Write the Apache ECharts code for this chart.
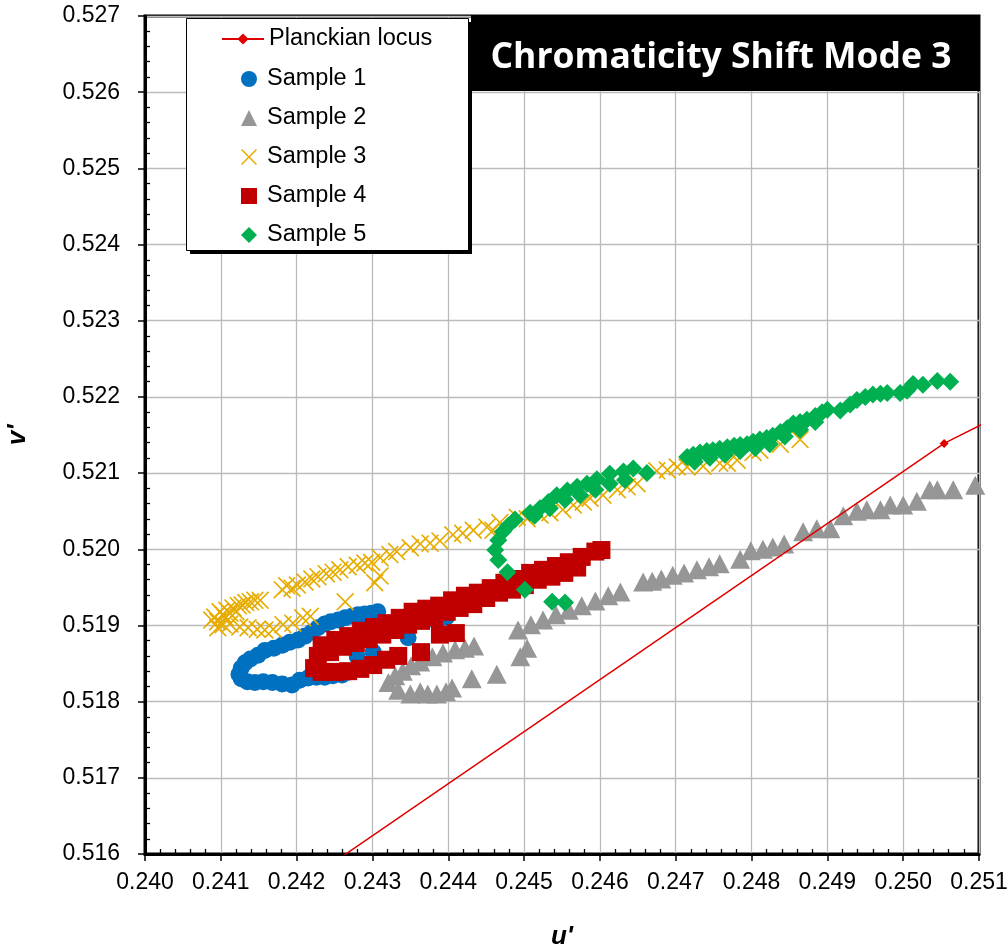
<!DOCTYPE html>
<html>
<head>
<meta charset="utf-8">
<script src="https://cdn.jsdelivr.net/npm/echarts@6/dist/echarts.min.js"></script>
<style>
  html, body { margin: 0; padding: 0; background: #ffffff; }
  #chart { width: 1007px; height: 948px; }
</style>
</head>
<body>
<div id="chart"></div>
<script>
// u'v' chromaticity coordinates of each sample during the test, plus the Planckian locus
const planckianLocus = [[0.23571, 0.51126], [0.25054, 0.52139], [0.26252, 0.52735]];

const sample1 = [
  [0.24307,0.51918],[0.24299,0.51916],[0.24290,0.51915],[0.24281,0.51914],[0.24273,0.51912],
  [0.24264,0.51910],[0.24255,0.51907],[0.24245,0.51905],[0.24237,0.51902],[0.24228,0.51897],
  [0.24220,0.51891],[0.24211,0.51886],[0.24202,0.51881],[0.24191,0.51878],[0.24181,0.51874],
  [0.24170,0.51870],[0.24158,0.51867],[0.24149,0.51861],[0.24139,0.51856],[0.24132,0.51851],
  [0.24127,0.51844],[0.24124,0.51836],[0.24127,0.51830],[0.24135,0.51826],[0.24145,0.51825],
  [0.24156,0.51826],[0.24168,0.51825],[0.24181,0.51823],[0.24194,0.51822],[0.24204,0.51828],
  [0.24215,0.51831],[0.24226,0.51832],[0.24237,0.51832],[0.24248,0.51834],[0.24260,0.51835],
  [0.24270,0.51839],[0.24280,0.51859],[0.24301,0.51865],[0.24347,0.51884],[0.24385,0.51905],
  [0.24398,0.51911]
];

const sample2 = [
  [0.24321,0.51825],[0.24330,0.51834],[0.24340,0.51840],[0.24351,0.51847],[0.24363,0.51852],
  [0.24379,0.51859],[0.24393,0.51864],[0.24409,0.51868],[0.24422,0.51870],[0.24434,0.51873],
  [0.24334,0.51815],[0.24350,0.51810],[0.24363,0.51813],[0.24373,0.51810],[0.24385,0.51810],
  [0.24397,0.51813],[0.24405,0.51818],[0.24431,0.51830],[0.24464,0.51836],
  [0.24495,0.51859],[0.24504,0.51870],
  [0.24492,0.51894],[0.24509,0.51901],[0.24525,0.51907],[0.24542,0.51914],[0.24559,0.51920],
  [0.24576,0.51926],[0.24594,0.51932],[0.24611,0.51939],[0.24627,0.51944],
  [0.24657,0.51957],[0.24669,0.51958],[0.24681,0.51961],[0.24696,0.51966],[0.24711,0.51969],
  [0.24728,0.51973],[0.24744,0.51977],[0.24758,0.51981],
  [0.24785,0.51987],[0.24799,0.51998],[0.24815,0.52000],[0.24828,0.52003],[0.24843,0.52007],
  [0.24868,0.52023],[0.24886,0.52027],[0.24904,0.52027],
  [0.24921,0.52044],[0.24939,0.52050],[0.24952,0.52052],[0.24970,0.52052],[0.24983,0.52058],
  [0.25000,0.52058],[0.25018,0.52063],
  [0.25035,0.52078],[0.25045,0.52078],[0.25066,0.52078],[0.25095,0.52084]
];

const sample3 = [
  [0.24088,0.51907],[0.24092,0.51911],[0.24096,0.51905],[0.24099,0.51918],[0.24103,0.51914],
  [0.24106,0.51910],[0.24108,0.51920],[0.24112,0.51916],[0.24116,0.51923],[0.24120,0.51918],
  [0.24123,0.51926],[0.24128,0.51927],[0.24133,0.51930],[0.24139,0.51931],[0.24145,0.51933],
  [0.24152,0.51933],
  [0.24096,0.51897],[0.24103,0.51901],[0.24112,0.51902],[0.24125,0.51898],[0.24136,0.51897],
  [0.24148,0.51895],[0.24158,0.51894],[0.24169,0.51895],[0.24182,0.51901],[0.24195,0.51903],
  [0.24208,0.51910],[0.24218,0.51912],
  [0.24181,0.51947],[0.24187,0.51952],[0.24194,0.51949],[0.24201,0.51953],[0.24211,0.51957],
  [0.24220,0.51961],[0.24228,0.51964],[0.24239,0.51968],[0.24248,0.51970],[0.24257,0.51973],
  [0.24268,0.51977],[0.24280,0.51979],[0.24290,0.51982],[0.24299,0.51983],[0.24310,0.51989],
  [0.24323,0.51993],
  [0.24264,0.51931],[0.24303,0.51956],[0.24310,0.51965],
  [0.24332,0.51997],[0.24350,0.52002],[0.24363,0.52007],[0.24376,0.52008],[0.24389,0.52011],
  [0.24406,0.52019],[0.24419,0.52021],[0.24433,0.52025],[0.24451,0.52029],[0.24459,0.52025],
  [0.24468,0.52035],[0.24491,0.52042],[0.24504,0.52040],[0.24521,0.52045],[0.24534,0.52048],
  [0.24551,0.52052],[0.24565,0.52058],[0.24578,0.52062],[0.24587,0.52067],[0.24604,0.52071],
  [0.24623,0.52078],[0.24636,0.52082],[0.24649,0.52086],[0.24675,0.52103],[0.24689,0.52104],
  [0.24702,0.52108],[0.24715,0.52108],[0.24736,0.52109],[0.24758,0.52113],[0.24768,0.52113],
  [0.24781,0.52117],[0.24802,0.52127],[0.24811,0.52130],[0.24838,0.52138],[0.24864,0.52144]
];

const sample4 = [
  [0.24233,0.51874],[0.24251,0.51881],[0.24268,0.51886],[0.24285,0.51893],[0.24302,0.51898],
  [0.24319,0.51903],[0.24336,0.51910],[0.24353,0.51918],[0.24371,0.51922],[0.24388,0.51926],
  [0.24405,0.51933],[0.24422,0.51939],[0.24439,0.51943],[0.24456,0.51949],[0.24474,0.51956],
  [0.24491,0.51961],[0.24508,0.51969],[0.24525,0.51973],[0.24542,0.51978],[0.24559,0.51983],
  [0.24576,0.51990],[0.24594,0.51997],[0.24602,0.51999],
  [0.24228,0.51860],[0.24244,0.51865],[0.24261,0.51872],[0.24278,0.51877],[0.24295,0.51882],
  [0.24313,0.51888],[0.24330,0.51894],[0.24347,0.51901],[0.24364,0.51906],[0.24381,0.51911],
  [0.24398,0.51918],[0.24415,0.51923],[0.24433,0.51928],[0.24450,0.51936],[0.24467,0.51943],
  [0.24484,0.51947],[0.24501,0.51953],[0.24518,0.51960],[0.24536,0.51964],[0.24553,0.51969],
  [0.24570,0.51976],
  [0.24223,0.51844],[0.24233,0.51839],[0.24251,0.51839],[0.24268,0.51840],[0.24284,0.51843],
  [0.24301,0.51848],[0.24318,0.51855],[0.24334,0.51860],
  [0.24364,0.51865],[0.24389,0.51888],[0.24410,0.51890]
];

const sample5 = [
  [0.24537,0.51931],[0.24554,0.51930],[0.24501,0.51947],[0.24478,0.51970],[0.24466,0.51986],
  [0.24462,0.51999],[0.24466,0.52012],[0.24472,0.52023],[0.24479,0.52031],[0.24488,0.52039],
  [0.24508,0.52048],[0.24521,0.52054],[0.24532,0.52062],[0.24543,0.52071],[0.24557,0.52077],
  [0.24570,0.52082],[0.24583,0.52086],[0.24596,0.52092],[0.24613,0.52099],[0.24631,0.52102],
  [0.24644,0.52106],[0.24662,0.52100],
  [0.24514,0.52044],[0.24534,0.52054],[0.24554,0.52065],[0.24574,0.52071],[0.24594,0.52078],
  [0.24613,0.52086],[0.24633,0.52091],
  [0.24715,0.52121],[0.24723,0.52124],[0.24732,0.52127],[0.24741,0.52129],[0.24749,0.52130],
  [0.24758,0.52132],[0.24768,0.52134],[0.24777,0.52136],[0.24785,0.52137],[0.24794,0.52138],
  [0.24802,0.52141],[0.24811,0.52144],[0.24820,0.52146],[0.24828,0.52149],[0.24838,0.52154],
  [0.24847,0.52159],[0.24855,0.52165],[0.24864,0.52167],[0.24873,0.52170],[0.24884,0.52175],
  [0.24893,0.52180],[0.24900,0.52183],[0.24917,0.52182],[0.24930,0.52190],[0.24939,0.52196],
  [0.24950,0.52200],[0.24960,0.52203],[0.24970,0.52204],[0.24979,0.52205],[0.24996,0.52205],
  [0.25005,0.52208],[0.25013,0.52217],[0.25026,0.52216],[0.25045,0.52221],[0.25062,0.52220],
  [0.24725,0.52115],[0.24745,0.52120],[0.24765,0.52124],[0.24785,0.52129],[0.24805,0.52133],
  [0.24824,0.52138],[0.24844,0.52148],[0.24864,0.52157],[0.24884,0.52167]
];

// axis ranges
const uRange = { min: 0.240, max: 0.251, step: 0.001 };
const vRange = { min: 0.516, max: 0.527, step: 0.001 };

const chartTitle = 'Chromaticity Shift Mode 3';
const sampleNames = ['Sample 1', 'Sample 2', 'Sample 3', 'Sample 4', 'Sample 5'];
const FONT = '"Liberation Sans", Arial, sans-serif';
// thin "x" marker drawn as a filled outline
const crossSymbol = 'path://M0,1.3L1.3,0L10,8.7L18.7,0L20,1.3L11.3,10L20,18.7L18.7,20L10,11.3L1.3,20L0,18.7L8.7,10Z';

const chart = echarts.init(document.getElementById('chart'), null, { renderer: 'canvas' });

const tickFmt = v => v.toFixed(3);

function mainAxis(range, extra) {
  return Object.assign({
    type: 'value',
    min: range.min, max: range.max, interval: range.step,
    axisLine: { show: true, onZero: false, lineStyle: { color: '#000', width: 3 } },
    axisTick: { show: true, inside: false, length: 7, lineStyle: { color: '#000', width: 1.5 } },
    splitLine: { show: true, lineStyle: { color: '#BBBBBB', width: 1.3 } },
    nameTextStyle: { fontFamily: FONT, fontSize: 26, fontWeight: 'bold', fontStyle: 'italic', color: '#000' }
  }, extra);
}

function minorAxis(range, position) {
  return {
    type: 'value', position: position,
    min: range.min, max: range.max, interval: range.step,
    axisLine: { show: false },
    axisTick: { show: false, inside: true },
    axisLabel: { show: false },
    splitLine: { show: false },
    minorTick: { show: true, splitNumber: 5, length: 5, lineStyle: { color: '#000', width: 1.3 } }
  };
}

const legendText = { fontFamily: FONT, fontSize: 23.5, color: '#000', lineHeight: 26 };

const option = {
  animation: false,
  backgroundColor: '#ffffff',
  grid: {
    left: 145, right: 28, top: 16, bottom: 94,
    outerBoundsMode: 'none', containLabel: false,
    show: true, borderColor: '#000', borderWidth: 3, backgroundColor: 'transparent'
  },
  xAxis: [
    mainAxis(uRange, {
      position: 'bottom',
      axisLabel: { fontFamily: FONT, fontSize: 23, color: '#000', margin: 17, formatter: tickFmt },
      name: "u'", nameLocation: 'middle', nameGap: 70
    }),
    minorAxis(uRange, 'bottom')
  ],
  yAxis: [
    mainAxis(vRange, {
      position: 'left',
      axisLabel: { fontFamily: FONT, fontSize: 23, color: '#000', margin: 25, formatter: tickFmt },
      name: "v'", nameLocation: 'middle', nameGap: 114
    }),
    minorAxis(vRange, 'left')
  ],
  legend: [
    {
      orient: 'vertical', left: 221, top: 26, padding: 0, z: 10,
      itemWidth: 42, itemHeight: 14, itemGap: 13,
      textStyle: legendText,
      data: ['Planckian locus']
    },
    {
      orient: 'vertical', left: 241, top: 66, padding: 0, z: 10,
      itemWidth: 16, itemHeight: 16, itemGap: 13,
      textStyle: Object.assign({ padding: [0, 0, 0, 5] }, legendText),
      data: sampleNames
    }
  ],
  graphic: [
    // legend frame with its drop shadow
    { type: 'rect', left: 190, top: 22, z: 5, shape: { width: 282, height: 232 }, style: { fill: '#000' } },
    { type: 'rect', left: 186, top: 18, z: 6, shape: { width: 282, height: 232 },
      style: { fill: '#fff', stroke: '#000', lineWidth: 1 } },
    // title banner
    { type: 'rect', left: 471, top: 15, z: 50,
      shape: { width: 509, height: 76 }, style: { fill: '#000' } },
    { type: 'text', x: 721, y: 58, z: 51,
      style: { text: chartTitle, fill: '#fff', fontFamily: '"Open Sans"', fontWeight: 'bold', fontSize: 35.5,
               align: 'center', verticalAlign: 'middle' } }
  ],
  series: [
    { name: 'Planckian locus', type: 'line', data: planckianLocus,
      symbol: 'diamond', symbolSize: 9, showAllSymbol: true, clip: true,
      lineStyle: { color: '#E00000', width: 1.5 }, itemStyle: { color: '#E00000' } },
    { name: 'Sample 1', type: 'scatter', data: sample1, symbol: 'circle', symbolSize: 17,
      clip: false, itemStyle: { color: '#0070C0', opacity: 1 } },
    { name: 'Sample 2', type: 'scatter', data: sample2, symbol: 'triangle', symbolSize: [20, 19],
      clip: false, itemStyle: { color: '#969696', opacity: 1 } },
    { name: 'Sample 3', type: 'scatter', data: sample3, symbol: crossSymbol, symbolSize: 18,
      clip: false, itemStyle: { color: '#E6AC00', opacity: 1 } },
    { name: 'Sample 4', type: 'scatter', data: sample4, symbol: 'rect', symbolSize: 18,
      clip: false, itemStyle: { color: '#C00000', opacity: 1 } },
    { name: 'Sample 5', type: 'scatter', data: sample5, symbol: 'diamond', symbolSize: 18,
      clip: false, itemStyle: { color: '#00B050', opacity: 1 } }
  ]
};

chart.setOption(option);
</script>
</body>
</html>
